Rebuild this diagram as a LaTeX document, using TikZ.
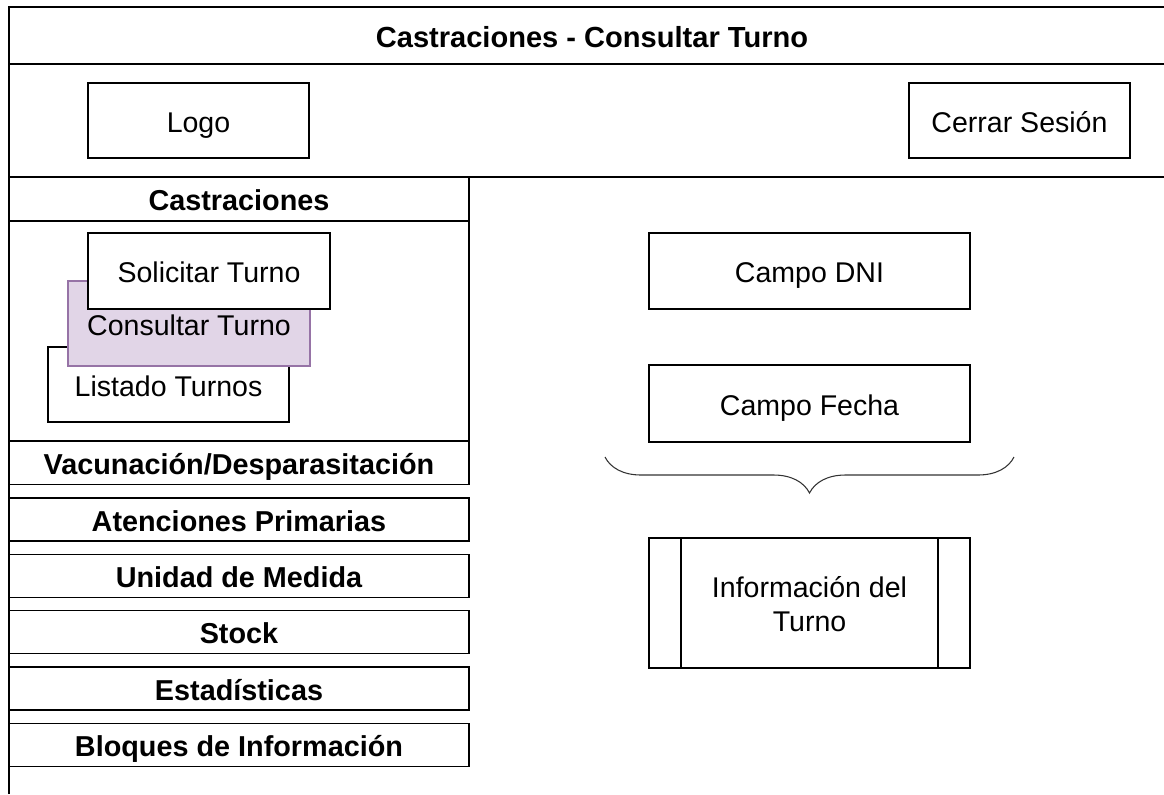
\documentclass[tikz,border=0pt]{standalone}
\usepackage{fontspec}
\setmainfont{Liberation Sans}
\usetikzlibrary{positioning, calc, decorations.pathreplacing}

\definecolor{lilafill}{HTML}{E1D5E7}
\definecolor{lilaline}{HTML}{9673A6}

\tikzset{
  pantalla/.style={line width=1pt},
  caja/.style={draw, line width=1pt, fill=white, inner sep=0pt, outer sep=0pt,
    font=\fontsize{21.4pt}{25.5pt}\selectfont, text height=22pt, text depth=4.5pt},
  menu/.style={caja, font=\fontsize{21.6pt}{25.5pt}\selectfont\bfseries,
    minimum width=460*0.75pt, minimum height=43*0.75pt}
}

\begin{document}
\begin{tikzpicture}[x=0.75pt, y=-0.75pt]

	\useasboundingbox (0,0) rectangle (1164,794);

	% Screen dimensions
	\def\leftofs{9}
	\def\topofs{7}
	\def\rightofs{1164}

	% Frame
	\draw[pantalla] (\leftofs, 794) -- (\leftofs, \topofs) -- (\rightofs, \topofs);
	\draw[pantalla] (\leftofs, 64) -- (\rightofs, 64);
	\draw[pantalla] (\leftofs, 177) -- (\rightofs, 177);

	% Title
	\node[font=\fontsize{21.8pt}{25.5pt}\selectfont\bfseries, text height=22pt, text depth=4.5pt]
		(titulo) at (592, 36) {Castraciones - Consultar Turno};

	% Header
	\node[caja, minimum width=221*0.75pt, minimum height=75*0.75pt] (logo) at (198.5, 120.5) {Logo};
	\node[caja, minimum width=221*0.75pt, minimum height=75*0.75pt] (cerrar) at (1019.5, 120.5) {Cerrar Sesi\'on};

	% Side menu
	\node[menu, minimum height=44*0.75pt] (castraciones) at (239, 199) {Castraciones};
	\node[caja, minimum width=460*0.75pt, minimum height=220*0.75pt] (panel) at (239, 331) {};

	\node[caja, minimum width=241*0.75pt, minimum height=75*0.75pt] (listado) at (168.5, 384.5) {Listado Turnos};
	\node[caja, draw=lilaline, fill=lilafill, minimum width=242*0.75pt, minimum height=85*0.75pt]
		(consultar) at (189, 323.5) {Consultar Turno};
	\node[caja, minimum width=242*0.75pt, minimum height=76*0.75pt] (solicitar) at (209, 271) {Solicitar Turno};

	\foreach \nombre [count=\i from 0] in {Vacunaci\'on/Desparasitaci\'on, Atenciones Primarias,
		Unidad de Medida, Stock, Estad\'isticas, Bloques de Informaci\'on}
		\node[menu] (item\i) at (239, 463 + 56.4*\i) {\nombre};

	% Content
	\node[caja, minimum width=321*0.75pt, minimum height=76*0.75pt] (dni) at (809.5, 271) {Campo DNI};
	\node[caja, minimum width=321*0.75pt, minimum height=77*0.75pt] (fecha) at (809.5, 403.5) {Campo Fecha};

	\coordinate (llaveizq) at (605, 457);
	\coordinate (llaveder) at (1014, 457);
	\draw[line width=0.8pt, black!80, decorate, decoration={brace, mirror, amplitude=27pt}]
		(llaveizq) -- (llaveder);

	\node[caja, align=center, text height=47.5pt, minimum width=321*0.75pt, minimum height=130*0.75pt]
		(info) at (809.5, 603) {Informaci\'on del\\Turno};
	\draw[pantalla] ([xshift=24pt]info.north west) -- ([xshift=24pt]info.south west);
	\draw[pantalla] ([xshift=-24pt]info.north east) -- ([xshift=-24pt]info.south east);

\end{tikzpicture}
\end{document}
